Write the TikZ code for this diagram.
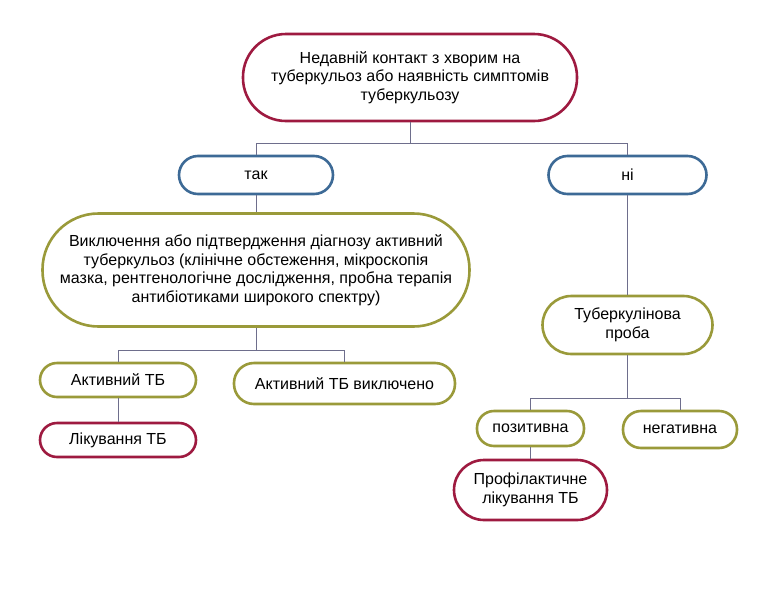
\documentclass[tikz,border=0pt]{standalone}
\usepackage{fontspec}
\setmainfont{Liberation Sans}
\definecolor{cred}{HTML}{9E1A40}
\definecolor{cblue}{HTML}{3D6A96}
\definecolor{colive}{HTML}{9A9A3A}
\definecolor{cline}{HTML}{6E6E8C}
\begin{document}
\begin{tikzpicture}[x=1pt,y=1pt,
  box/.style={draw, line width=2.6pt, inner sep=0pt,
    font=\fontsize{16}{18.5}\selectfont, text=black},
  mbox/.style={box, align=center},
  conn/.style={draw=cline, line width=1pt}]
\useasboundingbox (0,0) rectangle (769,-595);
\fill[white] (0,0) rectangle (769,-595);
\node[mbox, draw=cred, minimum width=334, minimum height=87, rounded corners=43] (top) at (410,-77.5)
  {Недавній контакт з хворим на\\туберкульоз або наявність симптомів\\туберкульозу};
\node[box, draw=cblue, minimum width=154, minimum height=38, rounded corners=19] (tak) at (256,-175) {так};
\node[box, draw=cblue, minimum width=158, minimum height=38, rounded corners=19] (ni) at (627.5,-175) {ні};
\node[mbox, draw=colive, minimum width=427, minimum height=113, rounded corners=56] (big) at (256,-270)
  {Виключення або підтвердження діагнозу активний\\туберкульоз (клінічне обстеження, мікроскопія\\мазка, рентгенологічне дослідження, пробна терапія\\антибіотиками широкого спектру)};
\node[box, draw=colive, minimum width=156, minimum height=34, rounded corners=17] (atb) at (118,-380) {Активний ТБ};
\node[box, draw=colive, minimum width=221, minimum height=41, rounded corners=20] (atbv) at (344.5,-383.5) {Активний ТБ виключено};
\node[box, draw=cred, minimum width=156, minimum height=34, rounded corners=17] (lik) at (118,-440) {Лікування ТБ};
\node[mbox, draw=colive, minimum width=170, minimum height=58, rounded corners=29] (tub) at (627.5,-325) {Туберкулінова\\проба};
\node[box, draw=colive, minimum width=107, minimum height=35, rounded corners=17] (poz) at (530.5,-428.5) {позитивна};
\node[box, draw=colive, minimum width=114, minimum height=37, rounded corners=18] (neg) at (680,-429.5) {негативна};
\node[mbox, draw=cred, minimum width=153, minimum height=60, rounded corners=30] (prof) at (530.5,-490) {Профілактичне\\лікування ТБ};
\coordinate (b1) at (410,-143);
\coordinate (b2) at (256,-350);
\coordinate (b3) at (627.5,-398);
\draw[conn] (top.south) -- (b1) -| (tak.north);
\draw[conn] (b1) -| (ni.north);
\draw[conn] (tak.south) -- (big.north);
\draw[conn] (big.south) -- (b2) -| (atb.north);
\draw[conn] (b2) -| (atbv.north);
\draw[conn] (atb.south) -- (lik.north);
\draw[conn] (ni.south) -- (tub.north);
\draw[conn] (tub.south) -- (b3) -| (poz.north);
\draw[conn] (b3) -| (neg.north);
\draw[conn] (poz.south) -- (prof.north);
\end{tikzpicture}
\end{document}
